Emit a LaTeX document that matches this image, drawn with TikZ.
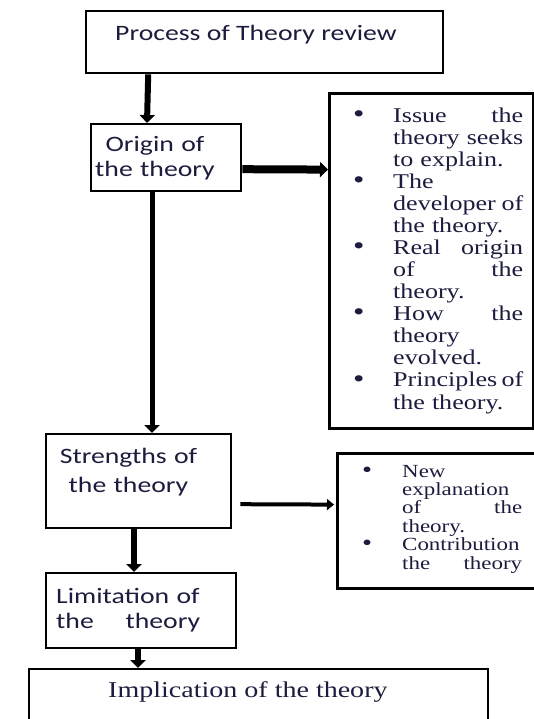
\documentclass[tikz,border=0pt]{standalone}
\usepackage{fontspec}
\usetikzlibrary{arrows.meta}
\newfontfamily\boxfont[FakeStretch=1.26]{Carlito}
\newfontfamily\listfont[FakeStretch=1.24]{Liberation Serif}
\definecolor{inktext}{RGB}{28,28,62}
\newcommand\stagebox[5]{%
  \node[stage, minimum width=#4pt, minimum height=#5pt] (#1) at (#2, #3) {}
}
\newcommand\bul{\makebox[40pt][l]{\scalebox{1.25}{\textbullet}}}
\newcommand\ind{\hspace*{40pt}}

\begin{document}
\begin{tikzpicture}[x=1pt, y=-1pt,
    stage/.style={draw, line width=2.4pt, anchor=north west, inner sep=0pt},
    listbox/.style={stage, line width=3.2pt},
    boxtext/.style={inner sep=0pt, text=inktext, font=\boxfont\fontsize{22}{25}\selectfont},
    itemtext/.style={inner sep=0pt, text=inktext, align=left, font=\listfont\fontsize{21}{22}\selectfont},
    flow/.style={line width=6pt, -{Triangle[width=15pt,length=8pt]}}]
  \useasboundingbox (0,0) rectangle (534,719);
  \clip (0,0) rectangle (534,719);

  % The stages
  \stagebox{proc}{85}{10}{357}{62};
  \stagebox{origin}{90}{123}{150}{67};
  \stagebox{strength}{45}{433}{185}{94};
  \stagebox{limit}{45}{572}{190}{75};
  \stagebox{impl}{28}{668}{459}{90};
  \node[listbox, minimum width=204pt, minimum height=335pt] (issues) at (328, 92) {};
  \node[listbox, minimum width=230pt, minimum height=135pt] (gains) at (336, 452) {};

  % Texts of the stages
  \node[boxtext, anchor=base west] (proctxt) at (115, 41) {Process of Theory review};
  \node[boxtext, anchor=base, text width=140pt, align=center] (origintxt) at (155, 152)
    {Origin of\\the theory};
  \node[boxtext, anchor=base, text width=160pt, align=center, font=\boxfont\fontsize{22}{29}\selectfont]
    (strengthtxt) at (128.5, 463) {Strengths of\\the theory};
  \node[boxtext, anchor=base west, text width=144pt, align=left] (limittxt) at (56, 603)
    {Limitation of\\the\hfill theory};
  \node[inner sep=0pt, text=inktext, anchor=base west, font=\listfont\fontsize{22.6}{26}\selectfont]
    (impltxt) at (108, 697) {Implication of the theory};

  % The bullet lists
  \node[itemtext, text width=170pt, anchor=base west] (issuetxt) at (353, 123) {%
    \bul Issue\hfill the\\
    \ind theory\hfill seeks\\
    \ind to explain.\\
    \bul The\\
    \ind developer\hfill of\\
    \ind the theory.\\
    \bul Real\hfill origin\\
    \ind of\hfill the\\
    \ind theory.\\
    \bul How\hfill the\\
    \ind theory\\
    \ind evolved.\\
    \bul Principles\hfill of\\
    \ind the theory.};
  \node[itemtext, text width=160pt, anchor=base west, font=\listfont\fontsize{18.5}{18.4}\selectfont]
    (gaintxt) at (362, 477) {%
    \bul New\\
    \ind explanation\\
    \ind of\hfill the\\
    \ind theory.\\
    \bul Contribution\\
    \ind the\hfill theory};

  % Arrows
  \draw[flow] ([xshift=-116.5pt]proc.south) -- ([xshift=57pt]origin.north west);
  \draw[flow, line width=8pt] ([yshift=-11.5pt]origin.east) -- ([yshift=91.5pt]issues.west);
  \draw[flow, line width=5pt] ([xshift=62pt]origin.south west) -- ([xshift=107pt]strength.north west);
  \draw[line width=4pt, -{Triangle[width=11pt,length=7pt]}, shorten >=2pt]
    ([xshift=8pt, yshift=-23pt]strength.east) -- ([yshift=16.5pt]gains.west);
  \draw[flow] ([xshift=89pt]strength.south west) -- ([xshift=89pt]limit.north west);
  \draw[flow] ([xshift=93pt]limit.south west) -- ([xshift=110pt]impl.north west);
\end{tikzpicture}
\end{document}
